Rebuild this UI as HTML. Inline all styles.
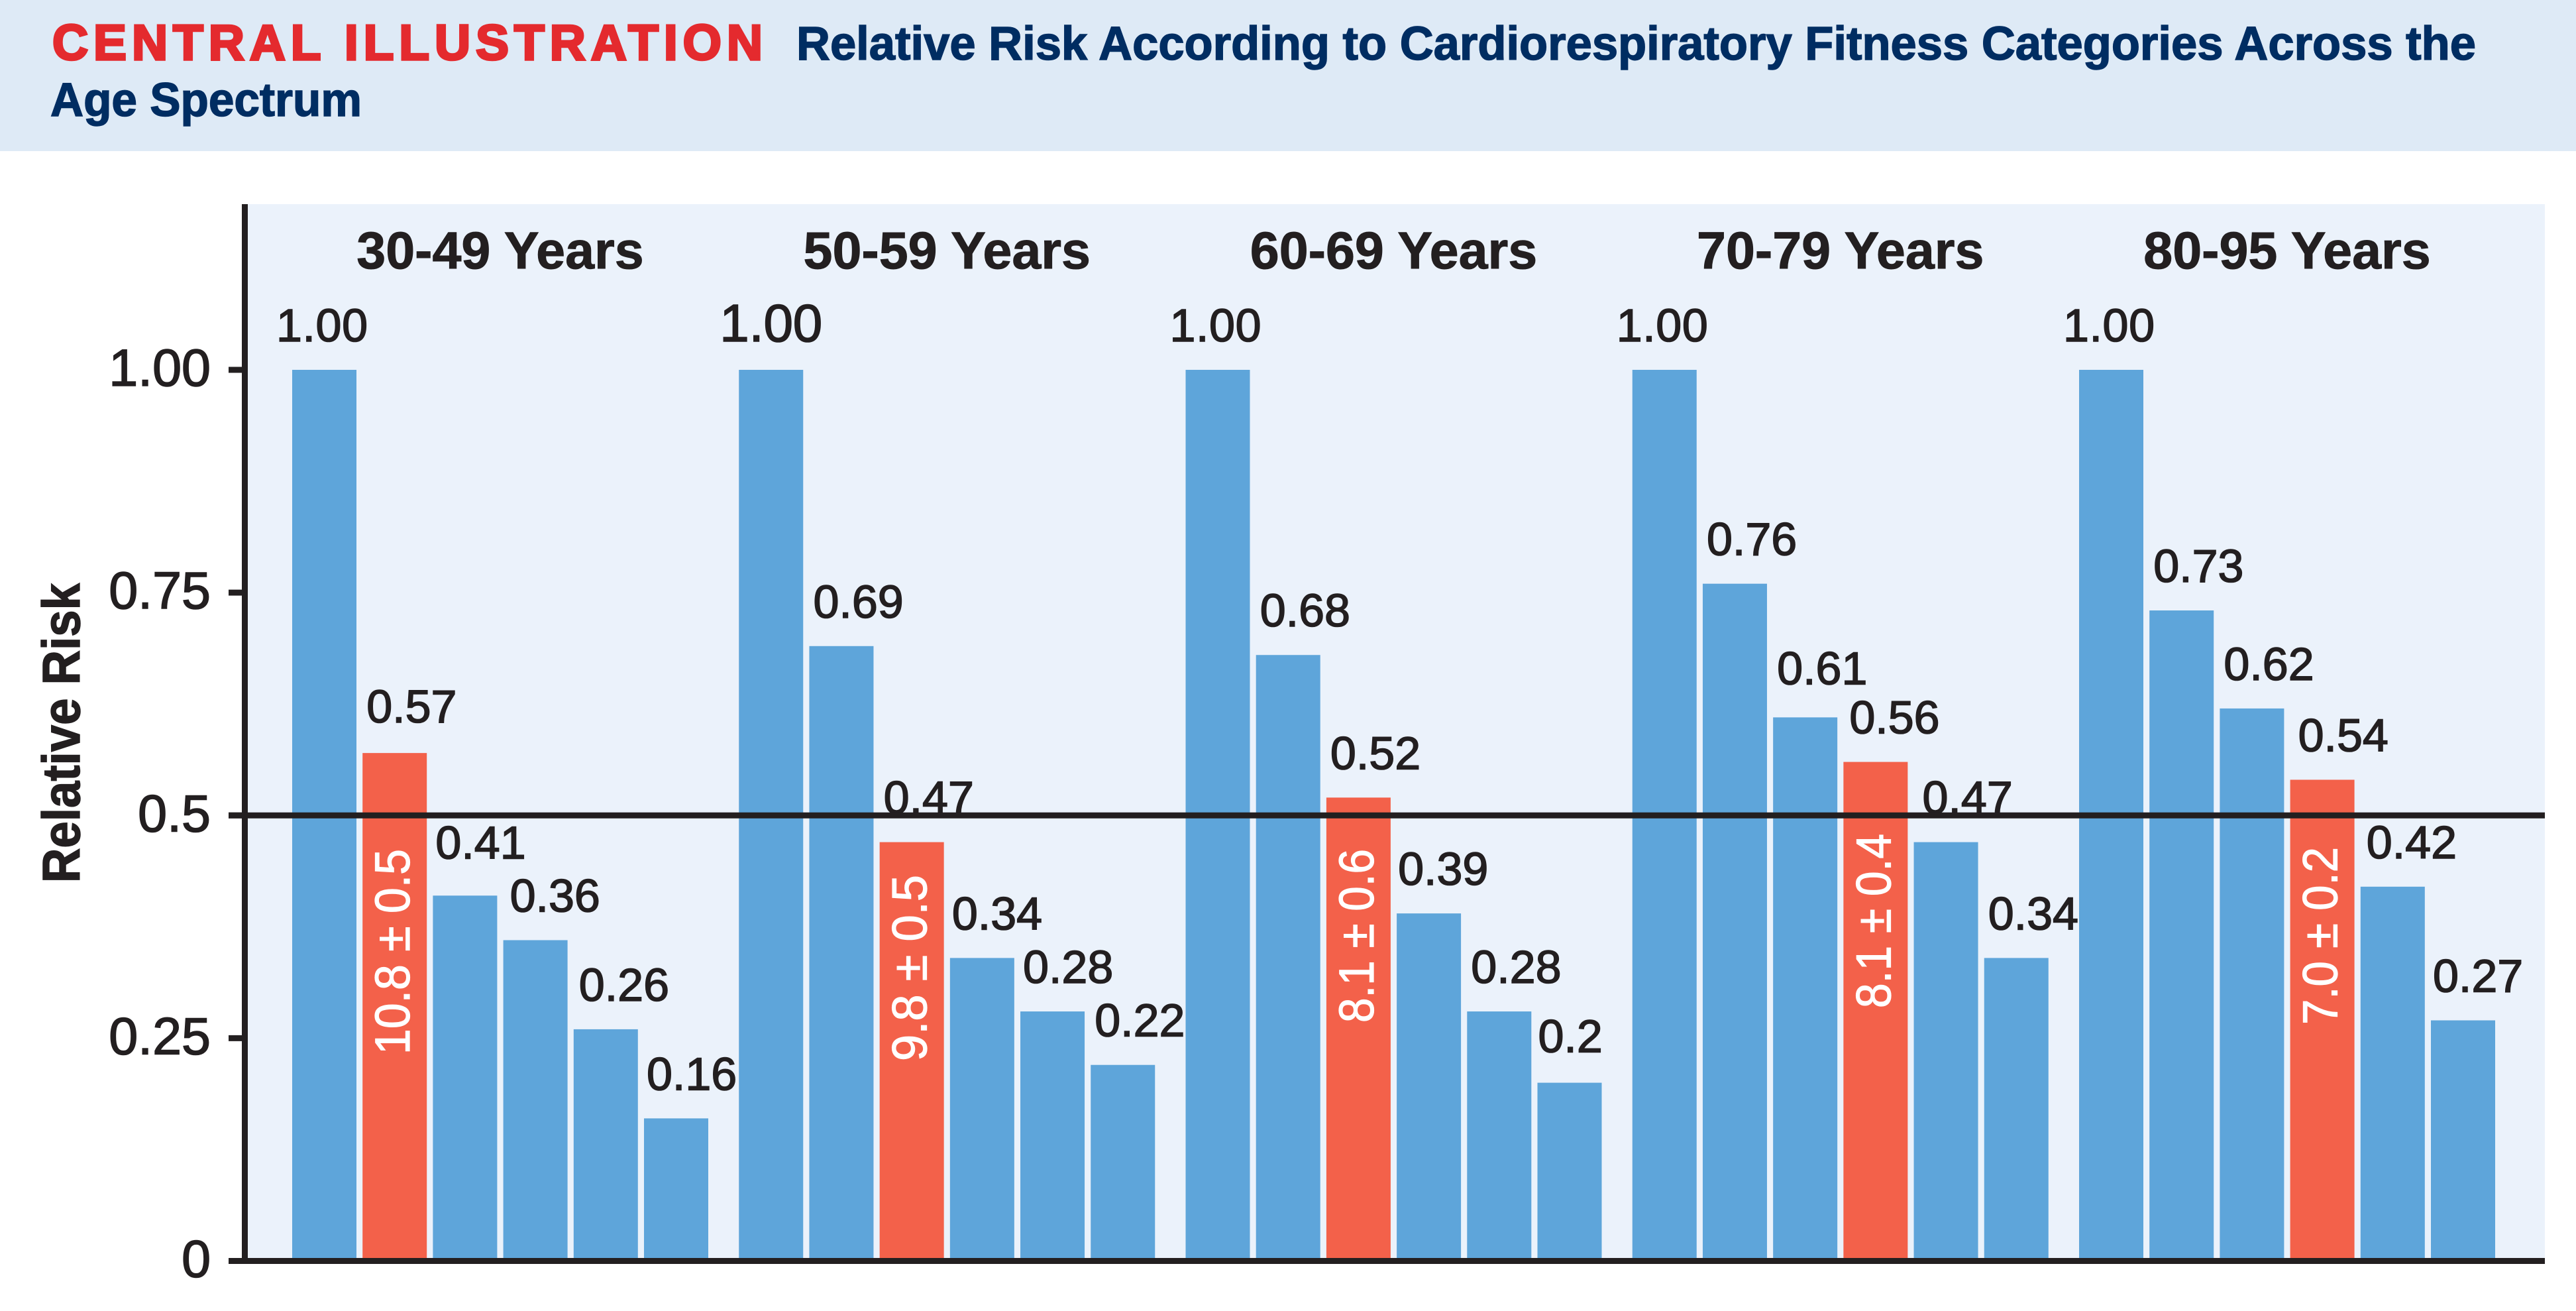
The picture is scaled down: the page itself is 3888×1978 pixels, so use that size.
<!DOCTYPE html>
<html lang="en">
<head>
<meta charset="utf-8">
<title>Central Illustration: Relative Risk According to Cardiorespiratory Fitness Categories</title>
<style>
html,body{margin:0;padding:0;background:#fff;width:3888px;height:1978px;overflow:hidden}
svg{display:block;font-family:"Liberation Sans",sans-serif}
</style>
</head>
<body>
<svg id="chart" xmlns="http://www.w3.org/2000/svg" width="3888" height="1978" viewBox="0 0 3888 1978">
  <rect x="0" y="0" width="3888" height="228" fill="#deeaf6"/>
  <text x="79" y="90" font-size="75" font-weight="700" fill="#e42a2e" stroke="#e42a2e" stroke-width="3.5" textLength="1072" lengthAdjust="spacing">CENTRAL ILLUSTRATION</text>
  <text x="1202" y="90" font-size="71" font-weight="700" fill="#002d62" stroke="#002d62" stroke-width="1.5" textLength="2535" lengthAdjust="spacingAndGlyphs">Relative Risk According to Cardiorespiratory Fitness Categories Across the</text>
  <text x="76" y="175" font-size="71" font-weight="700" fill="#002d62" stroke="#002d62" stroke-width="1.5" textLength="470" lengthAdjust="spacingAndGlyphs">Age Spectrum</text>
  <rect x="374" y="308" width="3467" height="1590" fill="#ebf2fb"/>
  <g id="marks"></g>
  <g id="axes"></g>
  <text transform="translate(120,1106) rotate(-90)" text-anchor="middle" font-size="80" font-weight="700" fill="#231f20" stroke="#231f20" stroke-width="1.5" textLength="452" lengthAdjust="spacingAndGlyphs">Relative Risk</text>
</svg>
<script>
const ageGroups = ['30-49 Years', '50-59 Years', '60-69 Years', '70-79 Years', '80-95 Years'];
const risk30to49 = [1.00, 0.57, 0.41, 0.36, 0.26, 0.16];
const risk50to59 = [1.00, 0.69, 0.47, 0.34, 0.28, 0.22];
const risk60to69 = [1.00, 0.68, 0.52, 0.39, 0.28, 0.20];
const risk70to79 = [1.00, 0.76, 0.61, 0.56, 0.47, 0.34];
const risk80to95 = [1.00, 0.73, 0.62, 0.54, 0.42, 0.27];
const highlightIndex = [1, 2, 2, 3, 3];
const highlightLabels = ['10.8 ± 0.5', '9.8 ± 0.5', '8.1 ± 0.6', '8.1 ± 0.4', '7.0 ± 0.2'];
const tickValues = [1, 0.75, 0.5, 0.25, 0];
const tickLabels = ['1.00', '0.75', '0.5', '0.25', '0'];

const NS = 'http://www.w3.org/2000/svg';
const INK = '#231f20';
const allRisks = [risk30to49, risk50to59, risk60to69, risk70to79, risk80to95];

// Axis functions
function yScale(v) { return 1902.5 - v * 1344.5; }
function groupLeft(g) { return 441 + g * 674.25; }
function barLeft(g, b) { return groupLeft(g) + b * 106.2; }
const barWidth = 97;

function make(tag, attrs, text) {
  const el = document.createElementNS(NS, tag);
  for (const k in attrs) el.setAttribute(k, attrs[k]);
  if (text !== undefined) el.textContent = text;
  return el;
}
function printed(v) { return v === 0.2 ? '0.2' : v.toFixed(2); }

// Hand-placement quirks of the source artwork: offsets relative to the default label anchor
const labelNudge = {
  '0-1': [0, -3], '0-2': [-2, -13], '0-3': [4, 0], '0-4': [2, 0], '0-5': [-2, 0],
  '1-3': [-3, 0], '1-4': [-2, 0],
  '2-3': [-4, 0], '2-5': [-5, -3],
  '3-2': [0, -7], '3-3': [3, 0], '3-4': [7, 0],
  '4-3': [6, 0], '4-4': [3, 0], '4-5': [-3, 0]
};
const highlightNudge = [0, 39, 0, -23, -3];
const highlightLengths = [310, 281, 262, 263, 268];

const marks = document.getElementById('marks');
const axes = document.getElementById('axes');

ageGroups.forEach(function (name, g) {
  const title = make('text', {
    x: groupLeft(g) + 314, y: 405, 'text-anchor': 'middle',
    'font-size': 79, 'font-weight': 700, fill: INK, stroke: INK, 'stroke-width': 1
  }, name);
  
  
  marks.appendChild(title);

  allRisks[g].forEach(function (v, b) {
    const isHighlight = highlightIndex[g] === b;
    const top = yScale(v);
    const bar = make('rect', {
      x: barLeft(g, b), y: top, width: barWidth, height: yScale(0) - top,
      fill: isHighlight ? '#f3614a' : '#5ea5da'
    });
    
    
    marks.appendChild(bar);

    const nudge = labelNudge[g + '-' + b] || [0, 0];
    const first = b === 0;
    const big = first && g === 1;
    const label = make('text', {
      x: barLeft(g, b) + (first ? (big ? -29 : -24) : 6) + nudge[0],
      y: top - 43 + nudge[1],
      'font-size': big ? 80 : 70,
      fill: INK, stroke: INK, 'stroke-width': 1.6
    }, printed(v));
    if (first) label.setAttribute('textLength', big ? 155 : 138);
    
    
    marks.appendChild(label);

    if (isHighlight) {
      const fit = make('text', {
        transform: 'translate(' + (barLeft(g, b) + 71) + ',' + (1281 + highlightNudge[g]) + ') rotate(-90)',
        'text-anchor': 'end', 'font-size': 74, fill: '#ffffff', stroke: '#ffffff', 'stroke-width': 1.2,
        textLength: highlightLengths[g], lengthAdjust: 'spacingAndGlyphs'
      }, highlightLabels[g]);
      
      
      marks.appendChild(fit);
    }
  });
});

tickValues.forEach(function (v, i) {
  const tick = make('rect', { x: 345, y: yScale(v) - 4.5, width: 29, height: 9, fill: INK });
  
  
  axes.appendChild(tick);

  const lab = make('text', {
    x: 318, y: yScale(v) + 24, 'text-anchor': 'end', 'font-size': 79, fill: INK, stroke: INK, 'stroke-width': 1.6
  }, tickLabels[i]);
  
  
  axes.appendChild(lab);
});

const yAxis = make('rect', { x: 365, y: 308, width: 9, height: 1599, fill: INK });


axes.appendChild(yAxis);

const xAxis = make('rect', { x: 345, y: yScale(0) - 4.5, width: 3496, height: 9, fill: INK });


axes.appendChild(xAxis);

const refLine = make('rect', { x: 345, y: yScale(0.5) - 4.5, width: 3496, height: 9, fill: INK });


axes.appendChild(refLine);
</script>
</body>
</html>
